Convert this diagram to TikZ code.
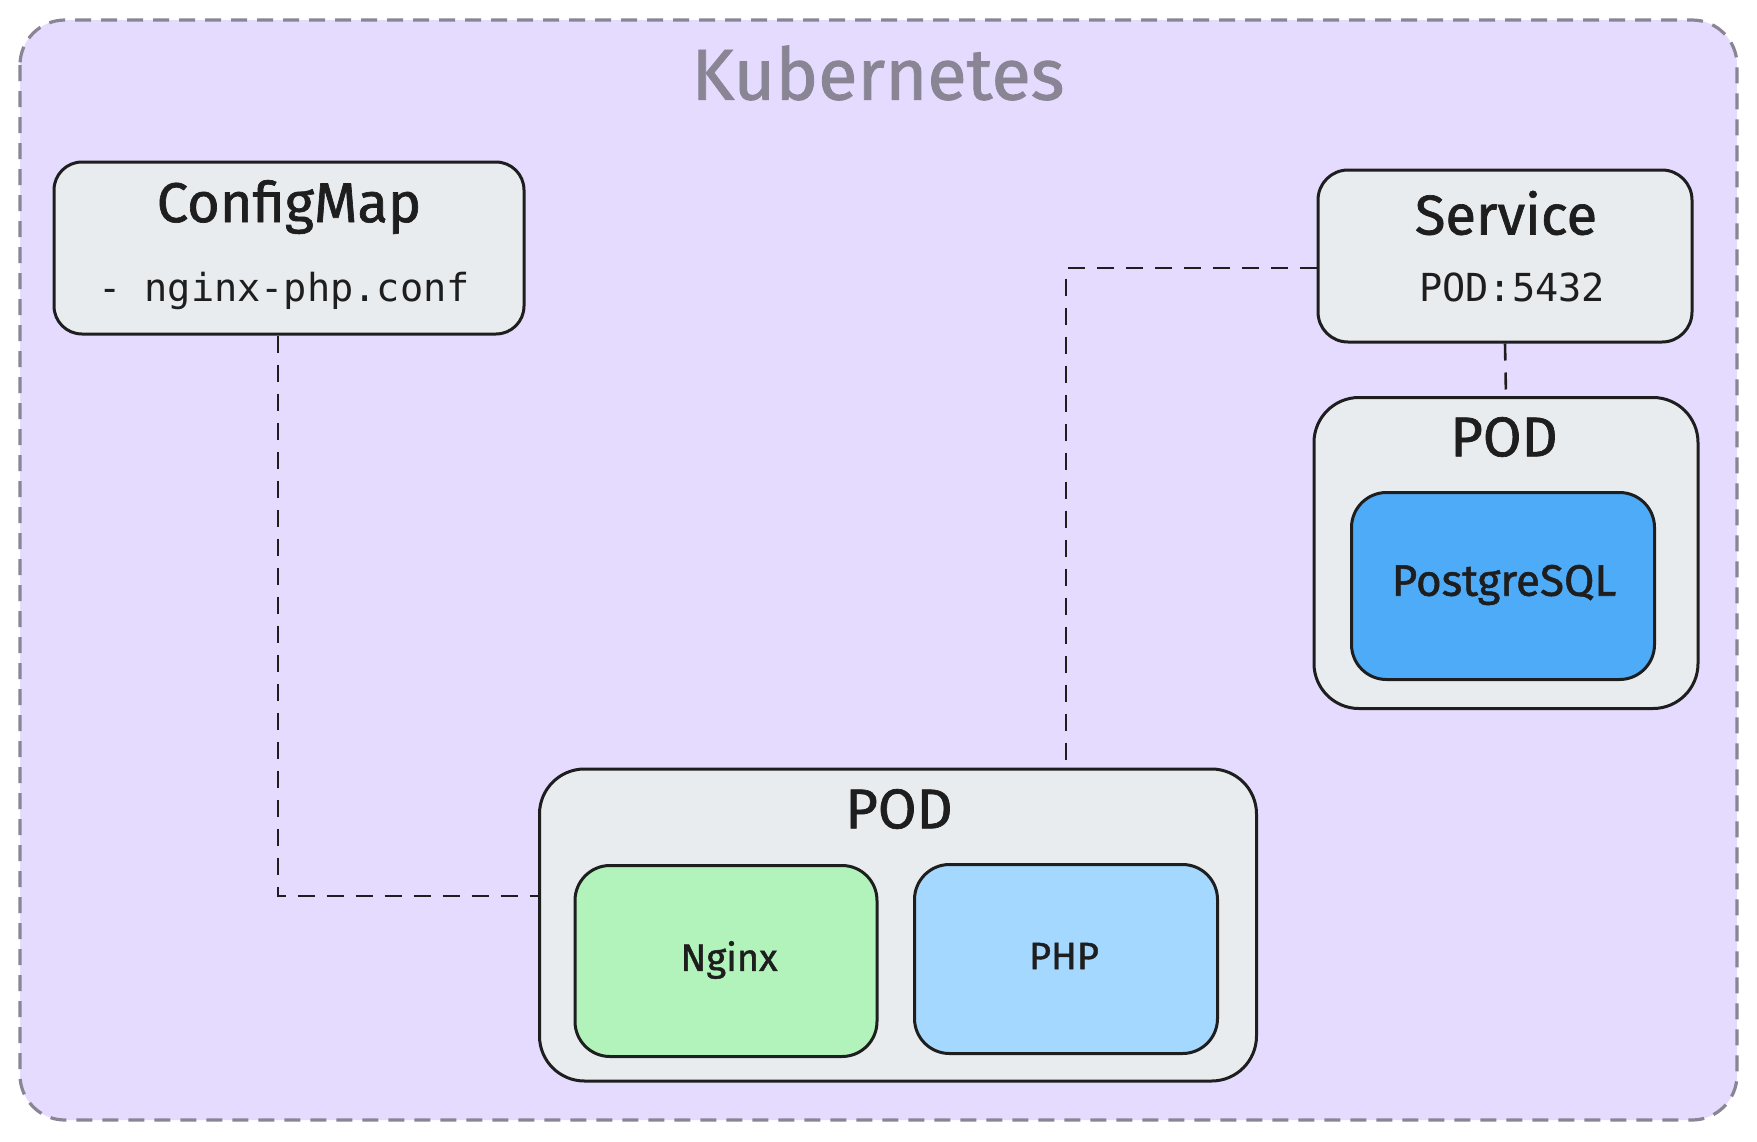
\documentclass[tikz,border=0pt]{standalone}
\usepackage{fontspec}
\setmainfont{Fira Sans}
\newfontfamily\handf[FakeBold=1.2]{Fira Sans}
\newfontfamily\monof{DejaVu Sans Mono}
\definecolor{lav}{HTML}{E5DBFF}
\definecolor{frame}{HTML}{8A8594}
\definecolor{boxfill}{HTML}{E9ECEF}
\definecolor{ink}{HTML}{1E1E1E}
\definecolor{ngx}{HTML}{B2F2BB}
\definecolor{phpc}{HTML}{A5D8FF}
\definecolor{pgc}{HTML}{4DABF7}
\tikzset{
  sbox/.style={draw=ink, line width=3pt, rounded corners=#1, inner sep=0pt},
  sbox/.default=28pt,
  conn/.style={draw=ink, line width=2.6pt, dash pattern=on 17pt off 12pt},
  lbl/.style={text=ink, inner sep=0pt, anchor=center},
}
\begin{document}
\begin{tikzpicture}[x=1pt,y=-1pt]
\useasboundingbox (0,0) rectangle (1757,1141);
\fill[white] (0,0) rectangle (1757,1141);
% outer frame
\path[fill=lav, draw=frame, line width=3.2pt, dash pattern=on 16pt off 10pt, rounded corners=45pt] (20,20) rectangle (1737,1120);
\node[lbl, text=frame, font=\handf\fontsize{72}{80}\selectfont] (title) at (878,73) {Kubernetes};

% boxes
\node[sbox=28pt, fill=boxfill, minimum width=470pt, minimum height=172pt] (cm) at (289,248) {};
\node[sbox=30pt, fill=boxfill, minimum width=374pt, minimum height=172pt] (svc) at (1505,256) {};
\node[sbox=45pt, fill=boxfill, minimum width=384pt, minimum height=311pt] (podr) at (1506,553) {};
\node[sbox=35pt, fill=pgc, minimum width=303pt, minimum height=187pt] (pg) at (1503,586) {};
\node[sbox=45pt, fill=boxfill, minimum width=717pt, minimum height=312pt] (podb) at (898,925) {};
\node[sbox=35pt, fill=ngx, minimum width=302pt, minimum height=191pt] (ngx) at (726,961) {};
\node[sbox=35pt, fill=phpc, minimum width=303pt, minimum height=189pt] (php) at (1066,959) {};

% texts
\node[lbl, font=\handf\fontsize{56}{60}\selectfont] (cmt) at (289,207) {ConfigMap};
\node[lbl, font=\monof\fontsize{38.6}{44}\selectfont] (cmf) at (284,291) {- nginx-php.conf};
\node[lbl, font=\handf\fontsize{56}{60}\selectfont] (svct) at (1506,213) {Service};
\node[lbl, font=\monof\fontsize{38.6}{44}\selectfont] (svcp) at (1512,287) {POD:5432};
\node[lbl, font=\handf\fontsize{56}{60}\selectfont] (podrt) at (1504,437) {POD};
\node[lbl, font=\handf\fontsize{44}{48}\selectfont] (pgt) at (1504,585) {PostgreSQL};
\node[lbl, font=\handf\fontsize{56}{60}\selectfont] (podbt) at (899,809) {POD};
\node[lbl, font=\handf\fontsize{38}{40}\selectfont] (ngxt) at (729,960) {Nginx};
\node[lbl, font=\handf\fontsize{38}{40}\selectfont] (phpt) at (1064,956) {PHP};

% connectors
\coordinate (j1) at (278,896);
\coordinate (j2) at (1066,268);
\draw[conn] (cm.south -| j1) -- (j1) -- (j1 -| podb.west);
\draw[conn] (svc.west |- j2) -- (j2) -- (j2 |- podb.north);
\draw[conn] (svc.south) -- (podr.north);
\end{tikzpicture}
\end{document}
